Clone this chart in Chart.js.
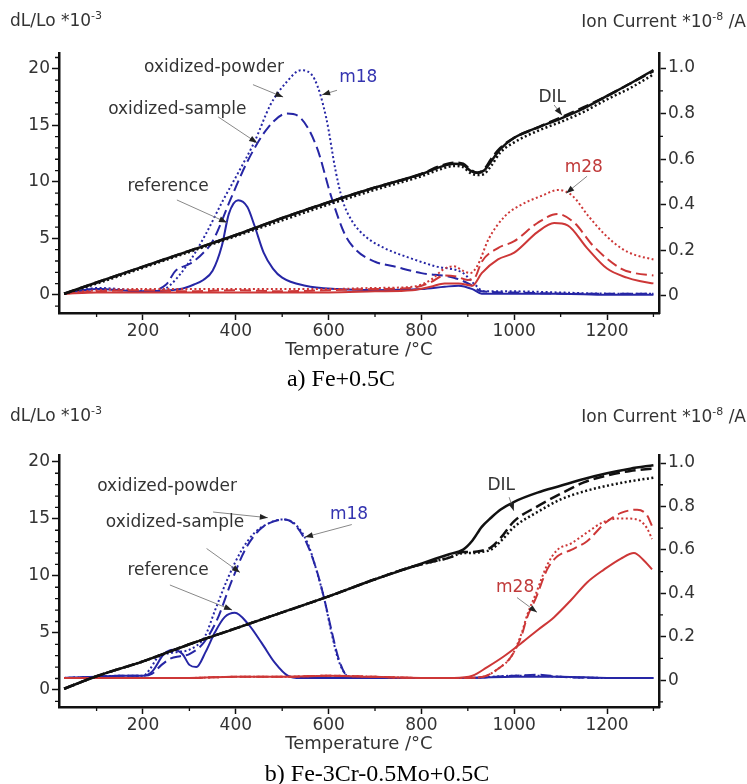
<!DOCTYPE html>
<html>
<head>
<meta charset="utf-8">
<script src="https://cdn.jsdelivr.net/npm/chart.js@4.4.0/dist/chart.umd.min.js"></script>
<style>
  body { margin: 0; background: #fff; width: 747px; height: 784px; position: relative; overflow: hidden;
         font-family: "DejaVu Sans", sans-serif; color: #333; }
  canvas { position: absolute; left: 0; }
  .lab { position: absolute; font-size: 17px; line-height: 20px; white-space: nowrap; }
  .lab sup { font-size: 11px; vertical-align: 7px; line-height: 0; }
  .cap { position: absolute; left: 0; font-family: "Liberation Serif", "Times New Roman", serif;
         font-size: 24px; line-height: 28px; color: #000; text-align: center; }
</style>
</head>
<body>
<canvas id="graficaA" width="747" height="390" style="top:0"></canvas>
<canvas id="graficaB" width="747" height="394" style="top:390px"></canvas>

<div class="lab" style="left:10px;top:10px">dL/Lo *10<sup>-3</sup></div>
<div class="lab" style="right:1px;top:11px">Ion Current *10<sup>-8</sup> /A</div>
<div class="cap" style="top:364px;width:682px">a) Fe+0.5C</div>

<div class="lab" style="left:10px;top:405px">dL/Lo *10<sup>-3</sup></div>
<div class="lab" style="right:1px;top:406px">Ion Current *10<sup>-8</sup> /A</div>
<div class="cap" style="top:759px;width:754px">b) Fe-3Cr-0.5Mo+0.5C</div>

<script>
// ejes
var xTicks = [200, 400, 600, 800, 1000, 1200];
var leftTicks = [0, 5, 10, 15, 20];
var rightTicks = [0, 0.2, 0.4, 0.6, 0.8, 1.0];

// ---- a) Fe+0.5C ----
// dilatometría (eje izquierdo, dL/Lo *10^-3)
var aDilT      = [30, 100, 200, 300, 400, 500, 600, 700, 800, 840, 870, 890, 905, 920, 935, 950, 970, 1000, 1050, 1100, 1150, 1200, 1250, 1300];
var aDilRef    = [0.1, 1.1, 2.5, 3.9, 5.3, 6.8, 8.2, 9.5, 10.7, 11.3, 11.6, 11.5, 11.0, 10.8, 11.0, 11.8, 12.9, 13.9, 14.8, 15.6, 16.5, 17.6, 18.7, 19.9];
var aDilSample = [0.1, 1.1, 2.5, 3.9, 5.3, 6.8, 8.2, 9.5, 10.7, 11.4, 11.7, 11.6, 11.1, 10.8, 11.1, 12.0, 13.0, 13.9, 14.8, 15.7, 16.6, 17.6, 18.7, 19.8];
var aDilPowder = [0.1, 1.0, 2.4, 3.8, 5.2, 6.6, 8.0, 9.3, 10.5, 11.1, 11.4, 11.3, 10.8, 10.6, 10.7, 11.4, 12.6, 13.5, 14.5, 15.3, 16.2, 17.3, 18.3, 19.5];

// m18 (eje derecho, corriente iónica)
var aM18PowT = [30, 60, 100, 150, 200, 240, 260, 300, 335, 370, 405, 440, 475, 510, 540, 570, 595, 615, 630, 650, 680, 720, 770, 830, 890, 915, 935, 1000, 1100, 1200, 1300];
var aM18Pow  = [0.01, 0.02, 0.035, 0.03, 0.02, 0.025, 0.05, 0.15, 0.27, 0.41, 0.54, 0.675, 0.84, 0.94, 0.99, 0.95, 0.78, 0.55, 0.42, 0.33, 0.26, 0.21, 0.17, 0.13, 0.1, 0.05, 0.02, 0.02, 0.015, 0.01, 0.01];
var aM18SamT = [30, 100, 150, 200, 250, 270, 300, 320, 350, 390, 425, 470, 510, 540, 575, 605, 635, 660, 700, 740, 800, 870, 905, 930, 1000, 1100, 1200, 1300];
var aM18Sam  = [0.01, 0.03, 0.025, 0.02, 0.05, 0.11, 0.14, 0.17, 0.24, 0.43, 0.59, 0.74, 0.80, 0.78, 0.65, 0.44, 0.27, 0.2, 0.15, 0.13, 0.10, 0.08, 0.05, 0.02, 0.015, 0.01, 0.01, 0.01];
var aM18RefT = [30, 100, 200, 280, 310, 330, 350, 370, 385, 405, 425, 440, 460, 480, 500, 550, 620, 700, 800, 850, 880, 910, 930, 1000, 1100, 1200, 1300];
var aM18Ref  = [0.01, 0.03, 0.02, 0.03, 0.05, 0.07, 0.11, 0.22, 0.36, 0.42, 0.39, 0.31, 0.19, 0.12, 0.08, 0.045, 0.03, 0.025, 0.03, 0.04, 0.045, 0.03, 0.01, 0.01, 0.01, 0.005, 0.005];

// m28
var aM28PowT = [30, 100, 200, 300, 400, 500, 600, 700, 780, 820, 850, 870, 890, 905, 920, 945, 980, 1015, 1060, 1095, 1125, 1160, 1195, 1230, 1260, 1300];
var aM28Pow  = [0.01, 0.025, 0.03, 0.03, 0.03, 0.03, 0.03, 0.035, 0.04, 0.07, 0.12, 0.13, 0.11, 0.10, 0.13, 0.25, 0.35, 0.40, 0.44, 0.465, 0.44, 0.35, 0.27, 0.21, 0.18, 0.16];
var aM28SamT = [30, 100, 200, 300, 400, 500, 600, 700, 780, 820, 850, 875, 900, 915, 930, 965, 1000, 1050, 1093, 1130, 1170, 1230, 1260, 1300];
var aM28Sam  = [0.01, 0.02, 0.025, 0.02, 0.025, 0.02, 0.025, 0.03, 0.035, 0.06, 0.09, 0.085, 0.07, 0.08, 0.15, 0.21, 0.24, 0.32, 0.36, 0.32, 0.22, 0.12, 0.1, 0.09];
var aM28RefT = [30, 100, 200, 300, 400, 500, 600, 700, 780, 820, 850, 880, 910, 930, 965, 1000, 1050, 1086, 1115, 1157, 1200, 1243, 1270, 1300];
var aM28Ref  = [0.01, 0.015, 0.015, 0.015, 0.015, 0.015, 0.015, 0.02, 0.025, 0.04, 0.055, 0.055, 0.045, 0.1, 0.16, 0.19, 0.28, 0.32, 0.31, 0.21, 0.12, 0.08, 0.065, 0.055];

// ---- b) Fe-3Cr-0.5Mo+0.5C ----
var bDilT      = [30, 100, 200, 300, 400, 500, 600, 700, 780, 830, 860, 890, 910, 930, 950, 970, 1000, 1050, 1100, 1150, 1200, 1250, 1300];
var bDilRef    = [0.1, 1.2, 2.5, 4.0, 5.4, 6.8, 8.2, 9.7, 10.8, 11.5, 11.9, 12.3, 13.1, 14.3, 15.1, 15.8, 16.5, 17.3, 17.9, 18.5, 19.0, 19.4, 19.7];
var bDilSample = [0.1, 1.2, 2.5, 4.0, 5.4, 6.8, 8.2, 9.7, 10.8, 11.3, 11.6, 12.1, 12.1, 12.2, 12.5, 13.3, 14.8, 16.1, 17.2, 18.2, 18.8, 19.2, 19.4];
var bDilPowder = [0.1, 1.2, 2.5, 4.0, 5.4, 6.8, 8.2, 9.7, 10.8, 11.3, 11.6, 12.0, 12.0, 12.1, 12.3, 13.0, 14.3, 15.6, 16.7, 17.4, 17.9, 18.3, 18.6];

var bM18PowT = [30, 100, 150, 200, 215, 230, 250, 275, 300, 333, 355, 383, 413, 441, 469, 499, 527, 555, 576, 591, 606, 620, 635, 650, 700, 800, 900, 1000, 1050, 1100, 1200, 1300];
var bM18Pow  = [0.01, 0.015, 0.02, 0.02, 0.05, 0.1, 0.12, 0.13, 0.14, 0.2, 0.32, 0.47, 0.6, 0.68, 0.72, 0.74, 0.72, 0.63, 0.49, 0.37, 0.22, 0.1, 0.03, 0.01, 0.01, 0.01, 0.01, 0.02, 0.02, 0.015, 0.01, 0.01];
var bM18SamT = [30, 100, 150, 200, 220, 240, 260, 280, 300, 330, 360, 390, 420, 450, 480, 505, 530, 555, 575, 590, 605, 620, 635, 650, 700, 800, 900, 1000, 1050, 1100, 1200, 1300];
var bM18Sam  = [0.01, 0.015, 0.02, 0.02, 0.03, 0.07, 0.1, 0.11, 0.12, 0.17, 0.28, 0.45, 0.6, 0.69, 0.73, 0.74, 0.71, 0.62, 0.5, 0.38, 0.24, 0.11, 0.03, 0.01, 0.01, 0.01, 0.01, 0.02, 0.025, 0.015, 0.01, 0.01];
var bM18RefT = [30, 100, 150, 200, 220, 245, 265, 285, 300, 315, 335, 355, 376, 398, 426, 456, 484, 512, 540, 600, 700, 800, 900, 1000, 1100, 1200, 1300];
var bM18Ref  = [0.01, 0.015, 0.02, 0.02, 0.04, 0.12, 0.14, 0.12, 0.07, 0.06, 0.13, 0.22, 0.29, 0.31, 0.26, 0.17, 0.08, 0.02, 0.01, 0.01, 0.01, 0.01, 0.01, 0.015, 0.015, 0.01, 0.01];

var bM28RefT = [30, 100, 200, 300, 400, 500, 600, 700, 800, 870, 910, 942, 978, 1015, 1050, 1086, 1123, 1157, 1194, 1230, 1258, 1280, 1297];
var bM28Ref  = [0.01, 0.01, 0.01, 0.01, 0.015, 0.015, 0.02, 0.015, 0.01, 0.01, 0.02, 0.06, 0.11, 0.17, 0.23, 0.29, 0.37, 0.45, 0.51, 0.56, 0.585, 0.55, 0.51];
var bM28T    = [30, 100, 200, 300, 400, 500, 600, 700, 800, 900, 940, 964, 994, 1015, 1028, 1047, 1071, 1093, 1123, 1157, 1194, 1230, 1265, 1286, 1297];
var bM28Sam  = [0.01, 0.01, 0.01, 0.01, 0.015, 0.015, 0.02, 0.015, 0.01, 0.01, 0.02, 0.05, 0.11, 0.2, 0.29, 0.38, 0.51, 0.57, 0.6, 0.64, 0.72, 0.77, 0.785, 0.76, 0.71];
var bM28Pow  = [0.01, 0.01, 0.01, 0.01, 0.015, 0.015, 0.02, 0.015, 0.01, 0.01, 0.02, 0.05, 0.11, 0.21, 0.3, 0.4, 0.53, 0.6, 0.63, 0.68, 0.73, 0.745, 0.74, 0.7, 0.65];

// rótulos con flecha (posiciones en unidades de temperatura y dL/Lo)
var aNotes = [
  { text: 'oxidized-powder', t: 353, v: 20.1, color: '#333', from: [437, 18.6], to: [502, 17.5] },
  { text: 'oxidized-sample', t: 274, v: 16.4, color: '#333', from: [362, 15.75], to: [446, 13.45] },
  { text: 'reference', t: 254, v: 9.56, color: '#333', from: [273, 8.4], to: [381, 6.4] },
  { text: 'm18', t: 664, v: 19.2, color: '#3434b0', from: [618, 18.1], to: [586, 17.7] },
  { text: 'DIL', t: 1082, v: 17.5, color: '#333', from: [1086, 16.8], to: [1103, 15.9] },
  { text: 'm28', t: 1150, v: 11.3, color: '#c03a3a', from: [1157, 10.5], to: [1112, 9.0] }
];
var bNotes = [
  { text: 'oxidized-powder', t: 252, v: 17.8, color: '#333', from: [351, 15.6], to: [469, 15.1] },
  { text: 'oxidized-sample', t: 269, v: 14.65, color: '#333', from: [337, 12.4], to: [409, 10.3] },
  { text: 'reference', t: 254, v: 10.5, color: '#333', from: [258, 9.2], to: [392, 7.0] },
  { text: 'm18', t: 644, v: 15.35, color: '#3434b0', from: [650, 14.5], to: [549, 13.4] },
  { text: 'DIL', t: 972, v: 17.9, color: '#333', from: [989, 16.9], to: [999, 15.7] },
  { text: 'm28', t: 1002, v: 9.0, color: '#c03a3a', from: [1006, 8.1], to: [1049, 6.8] }
];

var NEGRO = '#111';
var AZUL = 'rgb(38,38,165)';
var ROJO = 'rgb(205,55,55)';

function puntos(ts, vs) {
    return ts.map(function (t, i) { return { x: t, y: vs[i] }; });
}

function serie(ts, vs, color, estilo, eje, ancho) {
    var dash = [];
    if (estilo === 'dot') dash = [2, 2.5];
    if (estilo === 'dash') dash = [11, 5];
    return {
        data: puntos(ts, vs),
        borderColor: color,
        borderWidth: ancho || 2,
        borderDash: dash,
        pointRadius: 0,
        cubicInterpolationMode: 'monotone',
        yAxisID: eje,
        fill: false
    };
}

// marcas menores y rótulos con flecha
var extrasPlugin = {
    id: 'extras',
    afterDraw: function (chart, args, opts) {
        var ctx = chart.ctx;
        var x = chart.scales.x, y = chart.scales.y, y1 = chart.scales.y1;
        var area = chart.chartArea;
        ctx.save();
        ctx.strokeStyle = NEGRO;
        ctx.lineWidth = 1.3;
        ctx.beginPath();
        for (var t = 100; t <= 1300; t += 200) {
            var px = x.getPixelForValue(t);
            ctx.moveTo(px, area.bottom); ctx.lineTo(px, area.bottom + 4);
        }
        for (var v = -1; v <= 21; v++) {
            if (v % 5 === 0) continue;
            var py = y.getPixelForValue(v);
            if (py < area.top || py > area.bottom) continue;
            ctx.moveTo(area.left, py); ctx.lineTo(area.left - 4, py);
        }
        for (var k = -1; k <= 10; k += 2) {
            var py1 = y1.getPixelForValue(k / 10);
            if (py1 < area.top || py1 > area.bottom) continue;
            ctx.moveTo(area.right, py1); ctx.lineTo(area.right + 4, py1);
        }
        ctx.stroke();

        // rótulos
        ctx.font = '17px "DejaVu Sans", sans-serif';
        ctx.textAlign = 'center';
        ctx.textBaseline = 'middle';
        opts.notes.forEach(function (n) {
            ctx.fillStyle = n.color;
            ctx.fillText(n.text, x.getPixelForValue(n.t), y.getPixelForValue(n.v));
            var x1 = x.getPixelForValue(n.from[0]), y1p = y.getPixelForValue(n.from[1]);
            var x2 = x.getPixelForValue(n.to[0]), y2 = y.getPixelForValue(n.to[1]);
            ctx.strokeStyle = '#888';
            ctx.lineWidth = 1;
            ctx.beginPath();
            ctx.moveTo(x1, y1p); ctx.lineTo(x2, y2);
            ctx.stroke();
            var ang = Math.atan2(y2 - y1p, x2 - x1);
            ctx.fillStyle = '#222';
            ctx.beginPath();
            ctx.moveTo(x2, y2);
            ctx.lineTo(x2 - 8 * Math.cos(ang) + 3 * Math.sin(ang), y2 - 8 * Math.sin(ang) - 3 * Math.cos(ang));
            ctx.lineTo(x2 - 8 * Math.cos(ang) - 3 * Math.sin(ang), y2 - 8 * Math.sin(ang) + 3 * Math.cos(ang));
            ctx.closePath();
            ctx.fill();
        });
        ctx.restore();
    }
};

function ejeY(pos, min, max, ticks, ancho, fmt) {
    return {
        type: 'linear',
        position: pos,
        min: min,
        max: max,
        afterBuildTicks: function (s) { s.ticks = ticks.map(function (v) { return { value: v }; }); },
        afterFit: function (s) { s.width = ancho; },
        border: { display: true, color: NEGRO, width: 2.5 },
        grid: { drawOnChartArea: false, tickLength: 7, tickWidth: 1.5, tickColor: NEGRO },
        ticks: { font: { family: 'DejaVu Sans', size: 17 }, color: '#333', padding: 2, callback: fmt }
    };
}

function crearGrafica(id, arriba, lim, series, notas) {
    var ctx = document.getElementById(id).getContext('2d');
    return new Chart(ctx, {
        type: 'line',
        data: { datasets: series },
        plugins: [extrasPlugin],
        options: {
            responsive: false,
            animation: false,
            layout: { padding: { top: arriba, left: 0, right: 0, bottom: 0 } },
            plugins: { legend: { display: false }, tooltip: { enabled: false }, extras: { notes: notas } },
            scales: {
                x: {
                    type: 'linear',
                    position: 'bottom',
                    min: 19,
                    max: 1312,
                    afterBuildTicks: function (s) { s.ticks = xTicks.map(function (v) { return { value: v }; }); },
                    afterFit: function (s) { s.height = 77; },
                    border: { display: true, color: NEGRO, width: 2.5 },
                    grid: { drawOnChartArea: false, tickLength: 7, tickWidth: 1.5, tickColor: NEGRO },
                    ticks: { font: { family: 'DejaVu Sans', size: 17 }, color: '#333', padding: 1, maxRotation: 0,
                             callback: function (v) { return String(v); } },
                    title: { display: true, text: 'Temperature /°C', color: '#333',
                             font: { family: 'DejaVu Sans', size: 18 }, padding: { top: 0, bottom: 29 } }
                },
                y: ejeY('left', lim[0], lim[1], leftTicks, 59, function (v) { return String(v); }),
                y1: ejeY('right', lim[2], lim[3], rightTicks, 88, function (v) { return v === 0 ? '0' : v.toFixed(1); })
            }
        }
    });
}

crearGrafica('graficaA', 53, [-1.6, 21.4, -0.075, 1.066], [
    serie(aDilT, aDilRef, NEGRO, 'solid', 'y', 2.5),
    serie(aDilT, aDilSample, NEGRO, 'dash', 'y', 2.5),
    serie(aDilT, aDilPowder, NEGRO, 'dot', 'y', 2.5),
    serie(aM28RefT, aM28Ref, ROJO, 'solid', 'y1'),
    serie(aM28SamT, aM28Sam, ROJO, 'dash', 'y1'),
    serie(aM28PowT, aM28Pow, ROJO, 'dot', 'y1'),
    serie(aM18RefT, aM18Ref, AZUL, 'solid', 'y1'),
    serie(aM18SamT, aM18Sam, AZUL, 'dash', 'y1'),
    serie(aM18PowT, aM18Pow, AZUL, 'dot', 'y1')
], aNotes);

crearGrafica('graficaB', 65, [-1.5, 20.6, -0.124, 1.037], [
    serie(bDilT, bDilRef, NEGRO, 'solid', 'y', 2.5),
    serie(bDilT, bDilSample, NEGRO, 'dash', 'y', 2.5),
    serie(bDilT, bDilPowder, NEGRO, 'dot', 'y', 2.5),
    serie(bM28RefT, bM28Ref, ROJO, 'solid', 'y1'),
    serie(bM28T, bM28Sam, ROJO, 'dash', 'y1'),
    serie(bM28T, bM28Pow, ROJO, 'dot', 'y1'),
    serie(bM18RefT, bM18Ref, AZUL, 'solid', 'y1'),
    serie(bM18SamT, bM18Sam, AZUL, 'dash', 'y1'),
    serie(bM18PowT, bM18Pow, AZUL, 'dot', 'y1')
], bNotes);
</script>
</body>
</html>
